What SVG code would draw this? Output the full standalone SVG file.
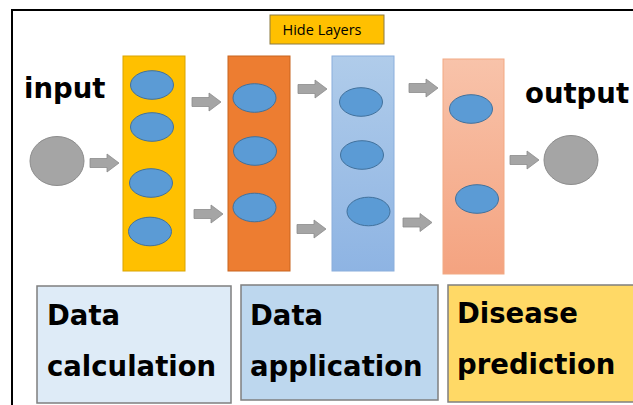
<svg xmlns="http://www.w3.org/2000/svg" xmlns:xlink="http://www.w3.org/1999/xlink" width="633" height="405" viewBox="0 0 633 405">
<style>
.big{font-family:"DejaVu Sans",Verdana,sans-serif;font-weight:bold;font-size:27.5px;fill:#000}
.small{font-family:"Open Sans","Liberation Sans",sans-serif;font-size:14.5px;fill:#000}
.node{fill:#5B9BD5;stroke:#41719C;stroke-width:1}
.circ{fill:#A5A5A5;stroke:#8C8C8C;stroke-width:1}
.arrow{fill:#A5A5A5;stroke:#8C8C8C;stroke-width:0.8}
.box{stroke:#7F7F7F;stroke-width:1.5}
</style>
<defs>
<linearGradient id="gBlue" x1="0" y1="0" x2="0" y2="1">
<stop offset="0" stop-color="#B0CCEA"/><stop offset="1" stop-color="#8EB4E3"/>
</linearGradient>
<linearGradient id="gSalmon" x1="0" y1="0" x2="0" y2="1">
<stop offset="0" stop-color="#F8C3AA"/><stop offset="1" stop-color="#F4A380"/>
</linearGradient>
<path id="arr" class="arrow" d="M0,-4.5 H17 V-9 L29,0 L17,9 V4.5 H0 Z"/>
</defs>
<rect width="633" height="405" fill="#fff"/>
<path d="M12,405 V10 H633" fill="none" stroke="#000" stroke-width="2"/>

<g id="hide-layers">
<rect x="270" y="15" width="114" height="29" fill="#FFC000" stroke="#8C7A40" stroke-width="1"/>
<text class="small" x="322" y="35" text-anchor="middle">Hide Layers</text>
</g>

<g id="input">
<text class="big" x="24" y="98">input</text>
<ellipse class="circ" cx="57" cy="161" rx="27" ry="24.5"/>
</g>

<g id="layer1">
<rect x="123" y="56" width="62" height="215" fill="#FFC000" stroke="#D9A400" stroke-width="1"/>
<ellipse class="node" cx="152" cy="85" rx="21.5" ry="14.3"/>
<ellipse class="node" cx="152" cy="127" rx="21.5" ry="14.3"/>
<ellipse class="node" cx="151" cy="183" rx="21.5" ry="14.3"/>
<ellipse class="node" cx="150" cy="231.5" rx="21.5" ry="14.3"/>
</g>

<g id="layer2">
<rect x="228" y="56" width="62" height="215" fill="#ED7D31" stroke="#C8651F" stroke-width="1"/>
<ellipse class="node" cx="254.5" cy="98" rx="21.5" ry="14.3"/>
<ellipse class="node" cx="255" cy="151" rx="21.5" ry="14.3"/>
<ellipse class="node" cx="254.5" cy="207.5" rx="21.5" ry="14.3"/>
</g>

<g id="layer3">
<rect x="332" y="56" width="62" height="215" fill="url(#gBlue)" stroke="#8AAEDC" stroke-width="1"/>
<ellipse class="node" cx="361" cy="102" rx="21.5" ry="14.3"/>
<ellipse class="node" cx="362" cy="155" rx="21.5" ry="14.3"/>
<ellipse class="node" cx="368.5" cy="211.5" rx="21.5" ry="14.3"/>
</g>

<g id="layer4">
<rect x="443" y="59" width="61" height="215" fill="url(#gSalmon)" stroke="#F2A983" stroke-width="1"/>
<ellipse class="node" cx="471" cy="109" rx="21.5" ry="14.3"/>
<ellipse class="node" cx="477" cy="199" rx="21.5" ry="14.3"/>
</g>

<g id="output">
<text class="big" x="525" y="103">output</text>
<ellipse class="circ" cx="571" cy="160" rx="27" ry="24.5"/>
</g>

<g id="connectors">
<use xlink:href="#arr" x="90" y="163"/>
<use xlink:href="#arr" x="192" y="102"/>
<use xlink:href="#arr" x="194" y="214"/>
<use xlink:href="#arr" x="298" y="89"/>
<use xlink:href="#arr" x="297" y="229"/>
<use xlink:href="#arr" x="409" y="88"/>
<use xlink:href="#arr" x="403" y="222.5"/>
<use xlink:href="#arr" x="510" y="160"/>
</g>

<g id="data-calculation">
<rect class="box" x="37" y="286" width="194" height="117" fill="#DEEBF7"/>
<text class="big" x="47" y="325">Data</text>
<text class="big" x="47" y="376">calculation</text>
</g>

<g id="data-application">
<rect class="box" x="241" y="285" width="197" height="115" fill="#BDD7EE"/>
<text class="big" x="250" y="325">Data</text>
<text class="big" x="250" y="376">application</text>
</g>

<g id="disease-prediction">
<rect class="box" x="448" y="285" width="200" height="117" fill="#FFD966"/>
<text class="big" x="457" y="323">Disease</text>
<text class="big" x="457" y="374">prediction</text>
</g>
</svg>
